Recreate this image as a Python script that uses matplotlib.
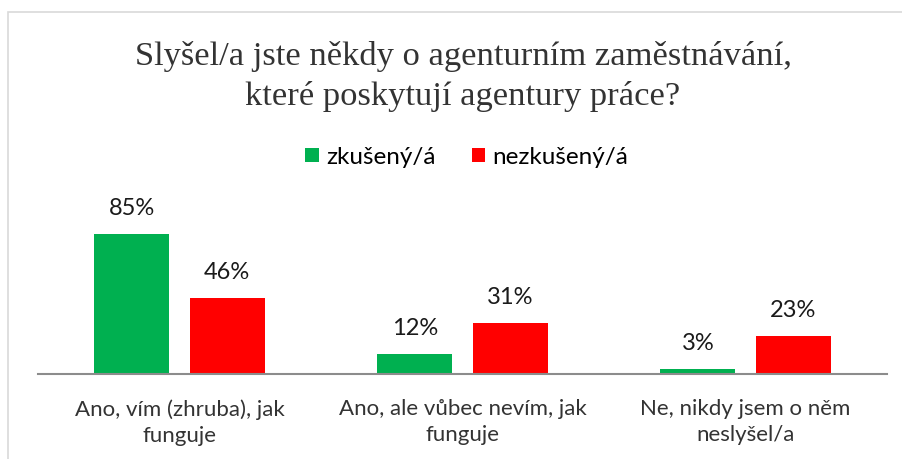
import numpy as np
import matplotlib
matplotlib.use('Agg')
import matplotlib.pyplot as plt
from matplotlib.patches import Rectangle

categories = ['Ano, vím (zhruba), jak\nfunguje',
              'Ano, ale vůbec nevím, jak\nfunguje',
              'Ne, nikdy jsem o něm\nneslyšel/a']
series_names = ['zkušený/á', 'nezkušený/á']
zkuseny = [85, 12, 3]
nezkuseny = [46, 31, 23]
colors = ['#00B050', '#FF0000']
title_lines = ['Slyšel/a jste někdy o agenturním zaměstnávání,',
               'které poskytují agentury práce?']

W, H = 902, 459
fig = plt.figure(figsize=(W / 100, H / 100), dpi=100)
fig.patch.set_facecolor('white')

# chart border (only left/top visible in the reference)
fig.add_artist(Rectangle((8 / W, -0.1), 1.2, (H - 12) / H + 0.1, transform=fig.transFigure,
                         fill=False, edgecolor='#d9d9d9', linewidth=1.2))

# axes placed in pixels: baseline at y=374, 1.647 px per percent
ax = fig.add_axes([38 / W, (H - 374) / H, (887 - 38) / W, 164.7 / H])
x = np.arange(len(categories))
bw = 0.265
off = 0.168
b1 = ax.bar(x - off, zkuseny, bw, color=colors[0], label=series_names[0])
b2 = ax.bar(x + off, nezkuseny, bw, color=colors[1], label=series_names[1])
ax.set_xlim(-0.5, len(categories) - 0.5)
ax.set_ylim(0, 100)

font = 'Lato'
for bars, vals in [(b1, zkuseny), (b2, nezkuseny)]:
    for rect, v in zip(bars, vals):
        ax.annotate(f'{v}%', (rect.get_x() + rect.get_width() / 2, v),
                    xytext=(0, 11), textcoords='offset points', ha='center', va='bottom',
                    fontsize=17, family=font, color='#1a1a1a')

for s in ['top', 'right', 'left']:
    ax.spines[s].set_visible(False)
ax.spines['bottom'].set_color('#8c8c8c')
ax.spines['bottom'].set_linewidth(1.5)
ax.set_yticks([])
ax.set_xticks(x)
ax.set_xticklabels(categories, fontsize=16, family=font, color='#333333', linespacing=1.38)
ax.tick_params(axis='x', length=0, pad=18)

fig.text(463 / W, 1 - 65 / H, title_lines[0], ha='center', va='baseline',
         family='Liberation Serif', fontsize=24.8, color='#333333')
fig.text(463 / W, 1 - 105 / H, title_lines[1], ha='center', va='baseline',
         family='Liberation Serif', fontsize=24.8, color='#333333')

fig.legend(handles=[b1, b2], loc='center', bbox_to_anchor=(467 / W, 1 - 157 / H), ncol=2,
           frameon=False, prop={'family': font, 'size': 17.5}, handlelength=0.55,
           handleheight=0.55, handletextpad=0.3, columnspacing=1.5)

fig.savefig('out.png', dpi=100)
